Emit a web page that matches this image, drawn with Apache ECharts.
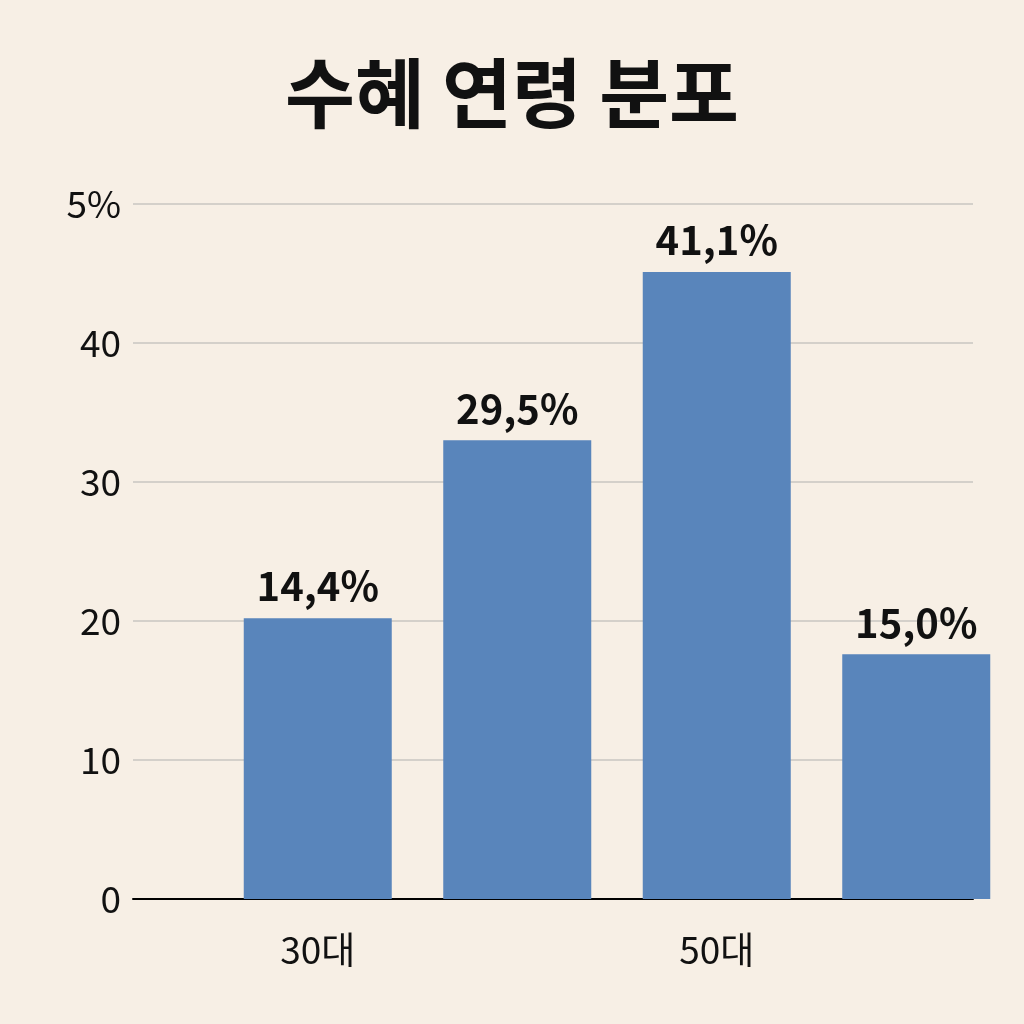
<!DOCTYPE html>
<html>
<head>
<meta charset="utf-8">
<script src="https://cdn.jsdelivr.net/npm/echarts@6/dist/echarts.min.js"></script>
<style>
html,body{margin:0;background:#f7efe5;}
#chart{width:1024px;height:1024px;}
</style>
</head>
<body>
<div id="chart"></div>
<script>
var categories = ['30대', '40대', '50대', '60세 이상'];
var values = [20.2, 33.0, 45.1, 17.6];
var barLabels = ['14,4%', '29,5%', '41,1%', '15,0%'];
var yTicks = {0: '0', 10: '10', 20: '20', 30: '30', 40: '40', 50: '5%'};

var font = '"Noto Sans CJK KR", "Noto Sans", sans-serif';
var chart = echarts.init(document.getElementById('chart'));
chart.setOption({
  backgroundColor: '#f7efe5',
  title: {
    text: '수혜 연령 분포', left: 'center', top: 50,
    textStyle: {fontFamily: font, fontSize: 76, fontWeight: 'bold', color: '#111'}
  },
  grid: [
    {left: 133, right: 51, top: 204, bottom: 125},
    {left: 218, right: 8, top: 204, bottom: 125}
  ],
  xAxis: [
    {gridIndex: 0, type: 'category', data: [''], axisLine: {lineStyle: {color: '#000', width: 2}},
     axisTick: {show: false}, axisLabel: {show: false}},
    {gridIndex: 1, type: 'category', data: categories, axisLine: {show: false}, axisTick: {show: false},
     axisLabel: {fontFamily: font, fontSize: 37, color: '#111', margin: 32,
       formatter: function (v, i) { return i === 3 ? v + '  ' : v; }}}
  ],
  yAxis: [
    {gridIndex: 0, type: 'value', min: 0, max: 50, interval: 10,
     axisLine: {show: false}, axisTick: {show: false},
     splitLine: {lineStyle: {color: '#c9c6c0', width: 1.5}},
     axisLabel: {fontFamily: font, fontSize: 37, color: '#111', margin: 12,
       formatter: function (v) { return yTicks[v]; }}},
    {gridIndex: 1, type: 'value', min: 0, max: 50, show: false}
  ],
  series: [{
    type: 'bar', xAxisIndex: 1, yAxisIndex: 1, data: values, barWidth: 148,
    itemStyle: {color: '#5985bb'},
    label: {show: true, position: 'top', distance: 12, fontFamily: font, fontSize: 40,
      fontWeight: 'bold', color: '#111',
      formatter: function (p) { return barLabels[p.dataIndex]; }}
  }]
});
</script>
</body>
</html>
